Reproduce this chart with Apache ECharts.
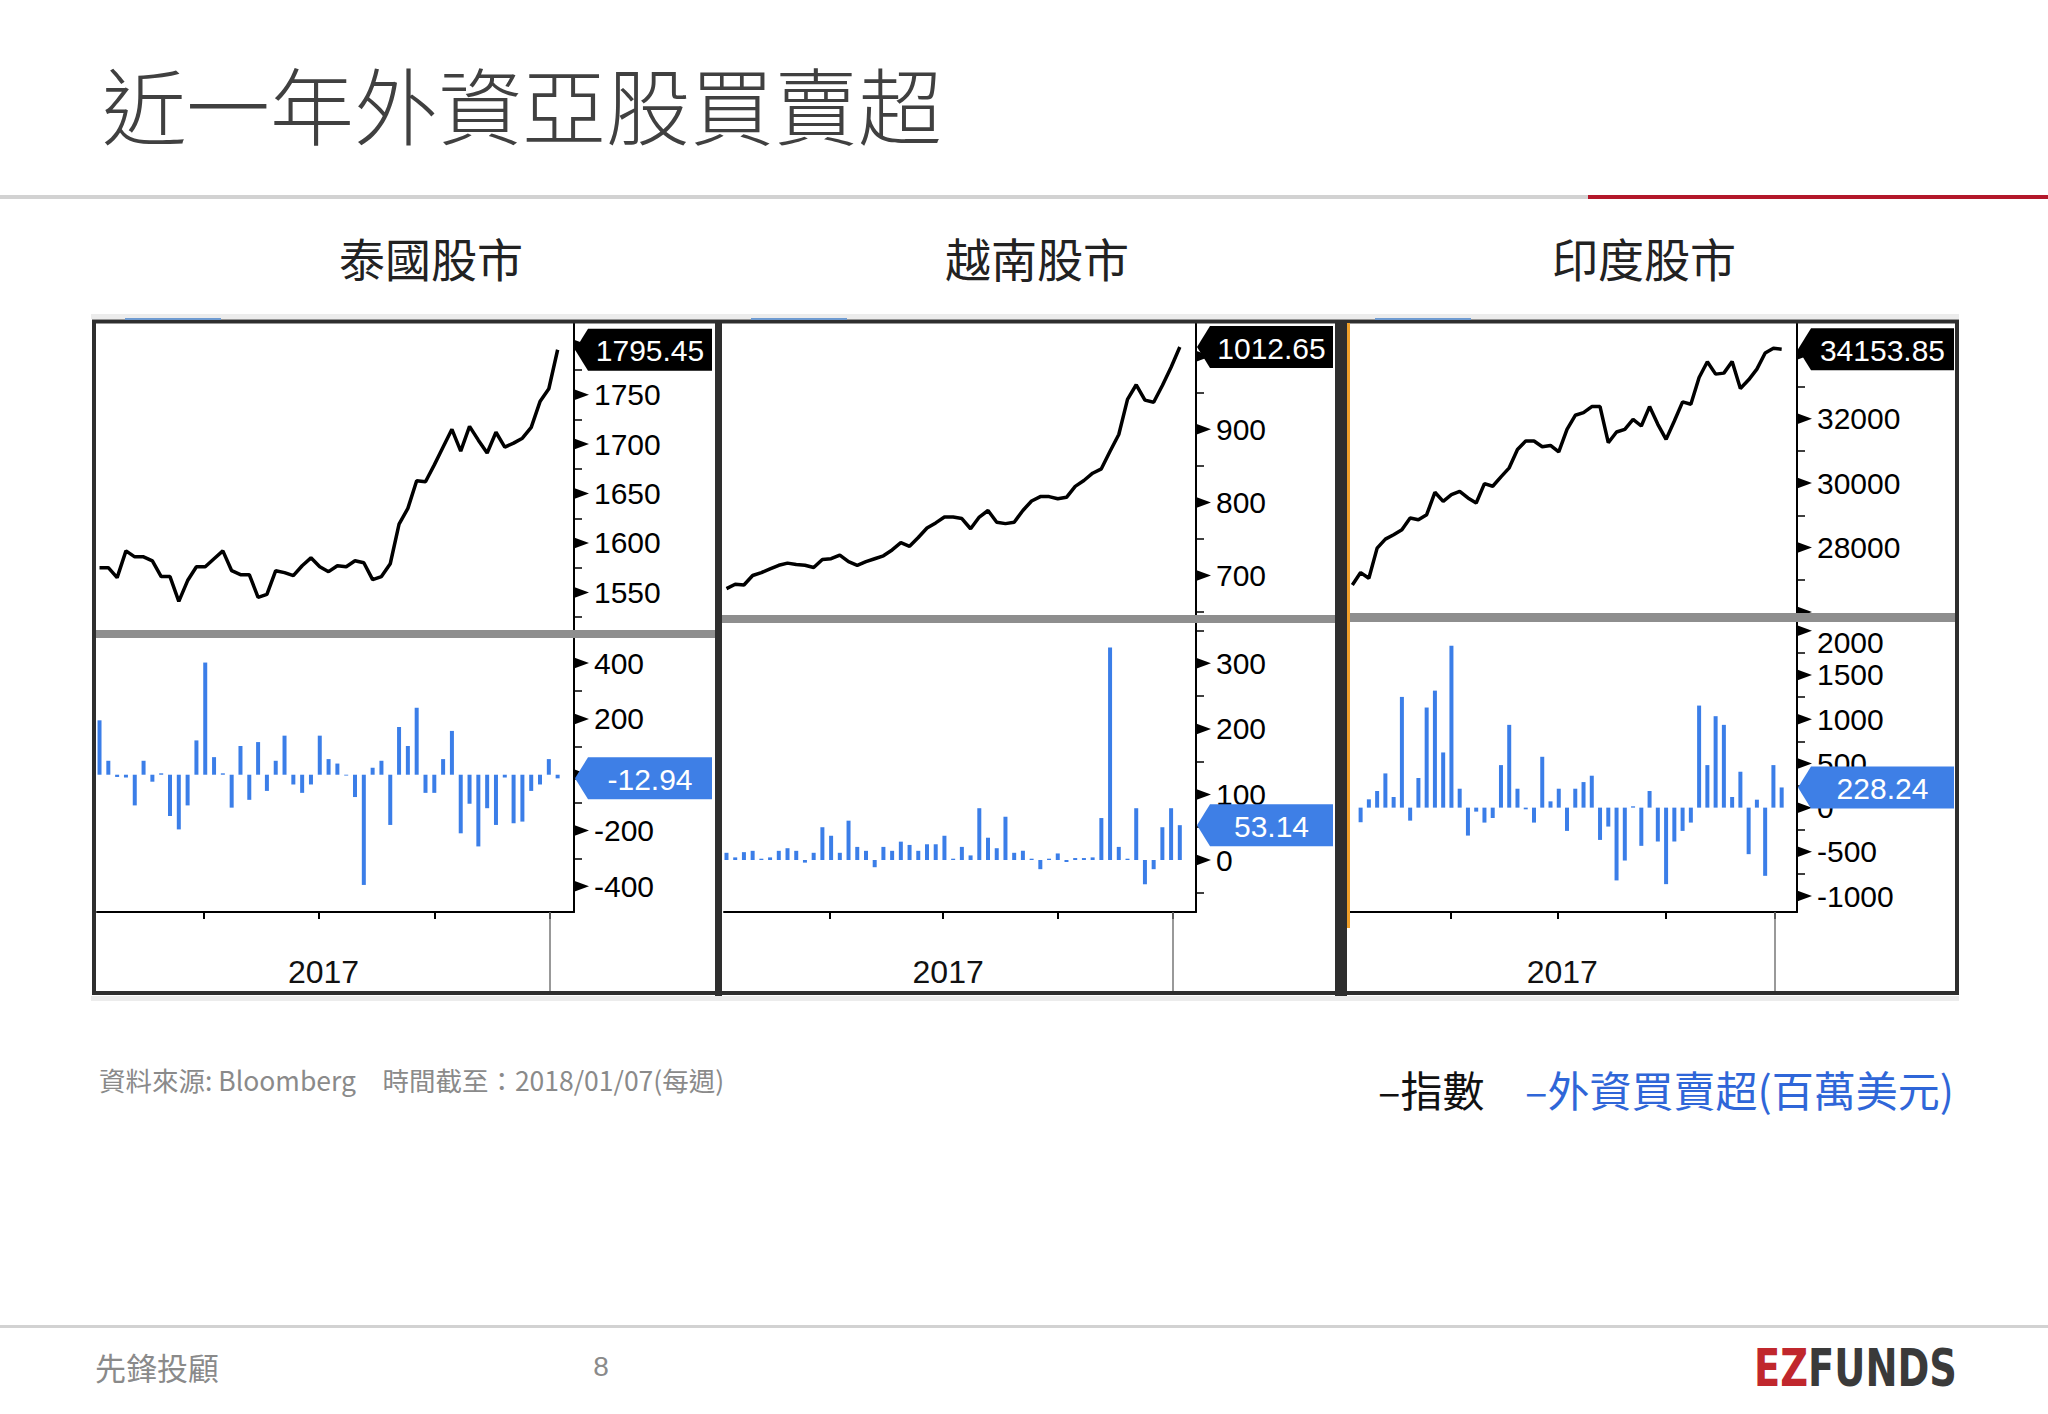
<!DOCTYPE html>
<html>
<head>
<meta charset="utf-8">
<script src="https://cdn.jsdelivr.net/npm/echarts@6/dist/echarts.min.js"></script>
<style>
html,body{margin:0;padding:0;background:#fff;}
#c{width:2048px;height:1414px;}
</style>
</head>
<body>
<div id="c"></div>
<script>
// ---------------- DATA ----------------
const weeks = ['2017-01-08','2017-01-15','2017-01-22','2017-01-29','2017-02-05','2017-02-12','2017-02-19','2017-02-26',
  '2017-03-05','2017-03-12','2017-03-19','2017-03-26','2017-04-02','2017-04-09','2017-04-16','2017-04-23','2017-04-30',
  '2017-05-07','2017-05-14','2017-05-21','2017-05-28','2017-06-04','2017-06-11','2017-06-18','2017-06-25',
  '2017-07-02','2017-07-09','2017-07-16','2017-07-23','2017-07-30','2017-08-06','2017-08-13','2017-08-20','2017-08-27',
  '2017-09-03','2017-09-10','2017-09-17','2017-09-24','2017-10-01','2017-10-08','2017-10-15','2017-10-22','2017-10-29',
  '2017-11-05','2017-11-12','2017-11-19','2017-11-26','2017-12-03','2017-12-10','2017-12-17','2017-12-24','2017-12-31',
  '2018-01-07'];

const thIndex = [1575,1575,1565,1592,1586,1586,1582,1566,1566,1541,1562,1576,1576,1584,1592,1572,1568,1568,1545,1548,
  1572,1570,1567,1577,1585,1576,1571,1577,1576,1582,1580,1563,1566,1579,1619,1635,1663,1662,1679,1697,1715,1693,1718,
  1704,1691,1712,1697,1701,1706,1717,1743,1756,1795.45];
const thFlow = [195,50,-8,-10,-110,50,-25,5,-148,-196,-110,123,402,63,5,-118,103,-90,117,-58,50,140,-35,-65,-35,140,
  56,40,-3,-80,-395,25,50,-180,171,103,240,-65,-65,56,157,-210,-104,-257,-120,-180,-10,-174,-168,-58,-35,56,-12.94];

const vnIndex = [682,688,687,700,704,709,714,717,715,714,711,722,723,728,719,714,719,723,727,735,745,740,752,765,772,
  780,780,778,764,780,789,773,771,773,789,802,808,808,805,807,822,830,840,846,870,893,941,961,940,937,960,985,1012.65];
const vnFlow = [11,4,12,14,2,4,14,18,14,-4,11,50,37,11,60,20,14,-11,20,14,28,23,14,24,24,37,2,20,7,79,34,18,66,11,14,
  2,-14,2,10,-3,3,3,4,64,324,20,2,79,-37,-14,50,79,53.14];

const inIndex = [26836,27221,27044,27979,28260,28395,28551,28915,28862,29017,29713,29433,29641,29745,29537,29382,29984,
  29901,30192,30473,31044,31304,31304,31127,31169,30971,31667,32104,32187,32374,32374,31252,31584,31667,31979,31771,
  32374,31823,31356,31927,32519,32447,33278,33766,33382,33413,33777,32935,33205,33538,34037,34183,34153.85];
const inFlow = [null,-165,94,188,387,120,1252,-147,335,1132,1323,624,1831,214,-316,-45,-169,-117,481,936,214,-19,-169,
  575,71,214,-263,214,289,361,-365,-214,-823,-598,15,-432,188,-383,-865,-383,-263,-169,1154,481,1034,936,120,406,-526,
  90,-771,481,228.24];

// tick labels / tick values
const quarterTicks = ['2017-04-01','2017-07-01','2017-10-01','2018-01-01'];
const yearLabel = '2017';
const yearLabelAt = '2017-07-05';
const yearEnd = '2018-01-01';

const thIdxLabels = [1550,1600,1650,1700,1750];
const thIdxMarks = [1550,1600,1650,1700,1750,1800];
const thIdxMinor = [1525,1575,1625,1675,1725,1775];
const thFlowLabels = [-400,-200,200,400];
const thFlowMarks = [-400,-200,0,200,400];
const thFlowMinor = [-300,-100,100,300];

const vnIdxLabels = [700,800,900];
const vnIdxMarks = [700,800,900,1000];
const vnIdxMinor = [650,750,850,950];
const vnFlowLabels = [0,100,200,300];
const vnFlowMinor = [-50,50,150,250,350];

const inIdxLabels = [28000,30000,32000];
const inIdxMarks = [26000,28000,30000,32000,34000];
const inIdxMinor = [27000,29000,31000,33000];
const inFlowLabels = [-1000,-500,0,500,1000,1500,2000];
const inFlowMinor = [-750,-250,250,750,1250,1750];

const titleText = '近一年外資亞股買賣超';
const panelTitles = ['泰國股市','越南股市','印度股市'];
const sourceText = '資料來源: Bloomberg\u3000時間截至：2018/01/07(每週)';
const legendIndex = '–指數';
const legendFlow = '–外資買賣超(百萬美元)';

// ---------------- CONFIG ----------------
const X_MIN = '2017-01-06', X_MAX = '2018-01-20';
const NUM_FONT = '"Liberation Sans", Arial, sans-serif';
const CJK_FONT = '"Noto Sans CJK TC", "Noto Sans CJK SC", sans-serif';
const BAR = '#3b7ee8', TAGBLUE = '#3e7fe6', LEGBLUE = '#2f66d8';

const t = s => { const p = s.split('-').map(Number); return new Date(p[0], p[1]-1, p[2]).getTime(); };

const panels = [
  {idx: thIndex, flow: thFlow, idxRange:[1512,1822.5], flowRange:[-492,490],
   idxLabels: thIdxLabels, idxMarks: thIdxMarks, idxMinor: thIdxMinor,
   flowLabels: thFlowLabels, flowMarks: thFlowMarks, flowMinor: thFlowMinor},
  {idx: vnIndex, flow: vnFlow, idxRange:[646,1045.5], flowRange:[-79.3,361.5],
   idxLabels: vnIdxLabels, idxMarks: vnIdxMarks, idxMinor: vnIdxMinor,
   flowLabels: vnFlowLabels, flowMarks: vnFlowLabels, flowMinor: vnFlowMinor},
  {idx: inIndex, flow: inFlow, idxRange:[25966,34969], flowRange:[-1180,2099],
   idxLabels: inIdxLabels, idxMarks: inIdxMarks, idxMinor: inIdxMinor,
   flowLabels: inFlowLabels, flowMarks: inFlowLabels, flowMinor: inFlowMinor}
];

const layout = [
  {left:97, width:477, upTop:323, upH:307, lowTop:638, lowH:274, tagW:138, sepY:630, sepH:8, x0:95, x1:715, cx:431, blue:125},
  {left:724, width:472, upTop:323, upH:292, lowTop:623, lowH:289, tagW:137, sepY:615, sepH:8, x0:722, x1:1335, cx:1037, blue:751},
  {left:1350, width:447, upTop:323, upH:290, lowTop:622, lowH:290, tagW:157, sepY:613, sepH:9, x0:1347, x1:1956, cx:1644, blue:1375}
];

function tickSeries(xi, yi, marks) {
  return {
    type:'custom', xAxisIndex:xi, yAxisIndex:yi, clip:false, z:6, silent:true,
    data: marks.map(v => [t(X_MIN), v]),
    renderItem: function(params, api) {
      const cs = params.coordSys;
      const ax = cs.x + cs.width;
      const y = api.coord([api.value(0), api.value(1)])[1];
      return {type:'polygon', shape:{points:[[ax, y-5.5],[ax, y+5.5],[ax+15, y]]}, style:{fill:'#000'}};
    }
  };
}
function tagSeries(xi, yi, date, value, color, tagW) {
  return {
    type:'custom', xAxisIndex:xi, yAxisIndex:yi, clip:false, z:10, silent:true,
    data: [[t(date), value]],
    renderItem: function(params, api) {
      const cs = params.coordSys;
      const ax = cs.x + cs.width;
      const y = api.coord([api.value(0), api.value(1)])[1];
      const h = 42, tip = 14;
      return {type:'group', children:[
        {type:'polygon', shape:{points:[[ax+1,y],[ax+tip,y-h/2],[ax+tagW,y-h/2],[ax+tagW,y+h/2],[ax+tip,y+h/2]]},
         style:{fill:color}},
        {type:'text', style:{text:String(api.value(1)), x: ax+tip+(tagW-tip)/2, y: y+1,
          align:'center', verticalAlign:'middle', fill:'#fff', fontSize:30, fontFamily:NUM_FONT}}
      ]};
    }
  };
}

const grids = [], xAxes = [], yAxes = [], series = [];
panels.forEach((p, i) => {
  const L = layout[i];
  grids.push({left:L.left, top:L.upTop, width:L.width, height:L.upH, outerBoundsMode:'none', containLabel:false});
  grids.push({left:L.left, top:L.lowTop, width:L.width, height:L.lowH, outerBoundsMode:'none', containLabel:false});
  const gU = 2*i, gL = 2*i+1;
  const xBase = {type:'value', min:t(X_MIN), max:t(X_MAX), scale:true, splitLine:{show:false}, minorTick:{show:false}};
  xAxes.push(Object.assign({}, xBase, {gridIndex:gU, show:false, axisLine:{onZero:false}}));
  xAxes.push(Object.assign({}, xBase, {gridIndex:gL, position:'bottom',
    axisLine:{show:true, onZero:false, lineStyle:{color:'#000', width:2}},
    axisTick:{show:true, customValues: quarterTicks.map(t), length:7, lineStyle:{color:'#000', width:2}},
    axisLabel:{show:true, customValues:[t(yearLabelAt)], formatter:() => yearLabel, margin:44,
      fontSize:32, fontFamily:NUM_FONT, color:'#111'}}));
  xAxes.push(Object.assign({}, xBase, {gridIndex:gL, position:'bottom',
    axisLine:{show:false, onZero:false},
    axisTick:{show:true, customValues:[t(yearEnd)], length:81, lineStyle:{color:'#777', width:1.5}},
    axisLabel:{show:false}}));
  const yAx = (g, range, labels, minor) => ({
    type:'value', gridIndex:g, position:'right', min:range[0], max:range[1], scale:true,
    splitLine:{show:false},
    axisLine:{show:true, onZero:false, lineStyle:{color:'#000', width:2}},
    axisTick:{show:true, customValues:minor, length:8, lineStyle:{color:'#000', width:1.5}},
    axisLabel:{show:true, customValues:labels, margin:20,
      // a label sitting right at the top edge is nudged down (as in the reference)
      formatter: v => ((range[1]-v)/(range[1]-range[0]) < 0.04 ? '{s|' + v + '}' : String(v)),
      rich:{s:{padding:[24,0,0,0], fontSize:30, fontFamily:NUM_FONT, color:'#000'}},
      fontSize:30, fontFamily:NUM_FONT, color:'#000'}
  });
  yAxes.push(yAx(gU, p.idxRange, p.idxLabels, p.idxMinor));
  yAxes.push(yAx(gL, p.flowRange, p.flowLabels, p.flowMinor));

  series.push({type:'line', xAxisIndex:3*i, yAxisIndex:gU, showSymbol:false, symbol:'none', z:4,
    lineStyle:{color:'#000', width:3.5}, data: weeks.map((w,k) => [t(w), p.idx[k]])});
  series.push({type:'bar', xAxisIndex:3*i+1, yAxisIndex:gL, barWidth:4, z:4,
    itemStyle:{color:BAR}, data: weeks.map((w,k) => [t(w), p.flow[k]])});
  series.push(tickSeries(3*i, gU, p.idxMarks));
  series.push(tickSeries(3*i+1, gL, p.flowMarks));
  const last = weeks.length - 1;
  series.push(tagSeries(3*i, gU, weeks[last], p.idx[last], '#000', L.tagW));
  series.push(tagSeries(3*i+1, gL, weeks[last], p.flow[last], TAGBLUE, L.tagW));
});

// ---------------- GRAPHIC (page furniture) ----------------
const rect = (x, y, w, h, fill, z) => ({type:'rect', z: z || 50, silent:true, shape:{x, y, width:w, height:h}, style:{fill}});
const txt = (x, y, text, size, fill, family, align, extra) => ({type:'text', z:50, silent:true, x, y,
  style:Object.assign({text, fontSize:size, fontFamily:family, fill, align: align || 'left', verticalAlign:'middle',
    textAlign: align || 'left', textVerticalAlign:'middle'}, extra || {})});

const G = [];
G.push(txt(102, 102, titleText, 84, '#404040', CJK_FONT, 'left', {fontWeight:300}));
G.push(rect(0, 195, 1588, 4, '#d2d2d2'));
G.push(rect(1588, 195, 460, 4, '#b3172a'));
layout.forEach((L, i) => {
  G.push(txt(L.cx, 257, panelTitles[i], 46, '#222', CJK_FONT, 'center'));
  G.push(rect(L.x0, L.sepY, L.x1 - L.x0, L.sepH, '#8e8e8e', 60));
  G.push(rect(L.blue, 318, 96, 2, '#6f9bd1', 102));
});
G.push(rect(91, 314, 1868, 5, '#ececec', 40));
G.push(rect(91, 996, 1868, 5, '#ececec', 40));
G.push({type:'rect', z:100, silent:true, shape:{x:94, y:321.5, width:1863, height:671.5},
  style:{fill:'none', stroke:'#2e2e2e', lineWidth:4}});
G.push(rect(715, 320, 7, 676, '#2e2e2e', 100));
G.push(rect(1335, 320, 12, 676, '#2e2e2e', 100));
G.push(rect(1347, 323, 3, 605, '#f0a02a', 101));

G.push(txt(99, 1079, sourceText, 26.5, '#8a8a8a', CJK_FONT, 'left'));
G.push(txt(1378, 1088, legendIndex, 42, '#111', CJK_FONT, 'left'));
G.push(txt(1525, 1088, legendFlow, 42, LEGBLUE, CJK_FONT, 'left'));

G.push(rect(0, 1325, 2048, 3, '#d2d2d2'));
G.push(txt(95, 1366, '先鋒投顧', 31, '#8a8a8a', CJK_FONT, 'left'));
G.push(txt(601, 1366, '8', 28, '#8a8a8a', NUM_FONT, 'center'));
G.push({type:'text', z:50, silent:true, x:1754, y:1368, scaleX:0.82, scaleY:1,
  style:{text:'{a|EZ}{b|FUNDS}', verticalAlign:'middle', textVerticalAlign:'middle',
    rich:{a:{fontSize:52, fontWeight:'bold', fontFamily:'"DejaVu Sans Condensed", "DejaVu Sans", sans-serif', fill:'#c0272d', color:'#c0272d'},
          b:{fontSize:52, fontWeight:'bold', fontFamily:'"DejaVu Sans Condensed", "DejaVu Sans", sans-serif', fill:'#3a3a3a', color:'#3a3a3a'}}}});

const chart = echarts.init(document.getElementById('c'), null, {renderer:'svg', width:2048, height:1414});
chart.setOption({
  animation:false,
  backgroundColor:'#fff',
  grid: grids,
  xAxis: xAxes,
  yAxis: yAxes,
  series: series,
  graphic: G
});
</script>
</body>
</html>
